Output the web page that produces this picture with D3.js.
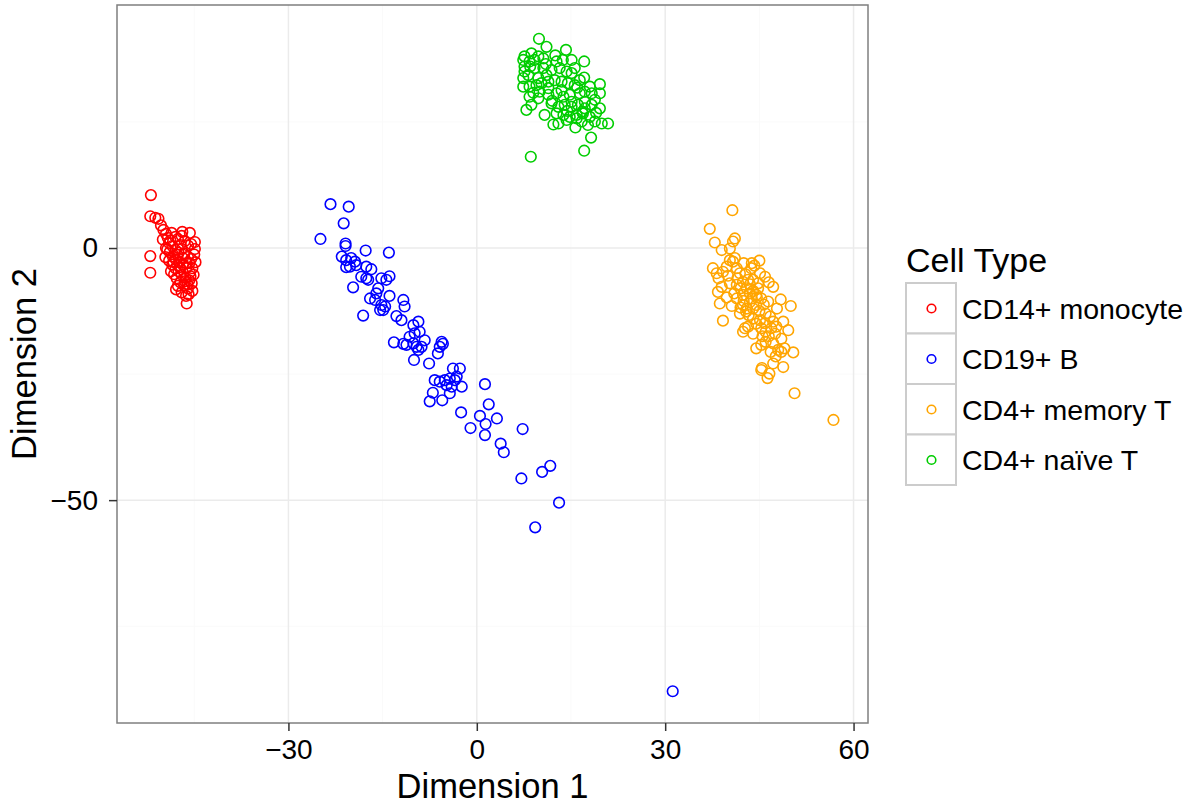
<!DOCTYPE html>
<html>
<head>
<meta charset="utf-8">
<script src="https://cdn.jsdelivr.net/npm/d3@7"></script>
<style>
  body { margin: 0; background: #fff; }
  text { font-family: "Liberation Sans", Arial, Helvetica, sans-serif; fill: #000; }
</style>
</head>
<body>
<svg id="chart" width="1194" height="808"></svg>
<script>
// cell types, in legend order
const cellTypes = ["CD14+ monocyte", "CD19+ B", "CD4+ memory T", "CD4+ naïve T"];
const typeColors = ["#ff0000", "#0000ff", "#ffa500", "#00cd00"];

const xTicks = [-30, 0, 30, 60];
const xMinor = [-45, -15, 15, 45];
const yTicks = [-50, 0];
const yMinor = [-75, -25, 25];

// points: [dimension 1, dimension 2]
const monocyte = [
  [-51.9,10.5],[-52.0,6.3],[-51.2,6.0],[-50.7,5.8],[-52.0,-1.6],[-52.0,-4.9],[-45.7,3.0],[-44.9,-0.2],
  [-46.2,-11.0],[-45.3,-8.5],[-45.4,-7.0],[-50.3,4.5],[-49.9,3.6],[-49.5,2.8],[-49.2,2.0],[-48.6,3.0],
  [-48.0,2.2],[-47.6,1.8],[-47.0,2.4],[-46.5,1.4],[-46.0,0.5],[-49.0,1.0],[-48.5,0.4],[-48.0,-0.4],
  [-47.5,-0.9],[-47.0,-0.2],[-46.6,-1.1],[-46.0,-1.8],[-45.8,-3.0],[-48.9,-0.8],[-48.4,-1.7],[-47.9,-2.3],
  [-47.4,-2.8],[-46.8,-3.3],[-46.3,-4.0],[-45.7,-4.8],[-48.5,-3.3],[-48.0,-4.0],[-47.5,-4.6],[-47.0,-5.3],
  [-46.4,-5.9],[-45.8,-6.4],[-47.8,-6.0],[-47.2,-6.8],[-46.6,-7.4],[-46.0,-8.0],[-47.0,-8.8],[-46.3,-9.5],
  [-48.2,-5.2],[-49.0,-2.5],[-49.3,-0.3],[-48.8,1.5],[-47.2,0.6],[-46.8,-2.0],[-45.5,-2.2],[-45.6,-5.6],
  [-47.7,-1.3],[-46.2,-3.0],[-48.7,-4.6],[-47.3,-3.8],[-46.5,-6.6],[-49.5,0.0],[-48.3,-2.8],[-47.6,-7.5],
  [-45.9,-9.2],[-46.1,-7.2],[-45.3,-4.0],[-44.8,-2.8],[-45.5,0.8],[-46.9,3.2],[-50.0,1.7],[-49.6,-1.8],
  [-47.9,-8.2],[-45.1,-5.3],[-45.0,-1.3],[-44.9,1.2]
];

const bCells = [
  [-23.3,8.7],[-20.4,8.2],[-21.2,4.9],[-24.9,1.8],[-20.9,0.9],[-20.9,0.4],[-17.7,-0.5],[-14.0,-0.9],
  [-21.5,-1.7],[-20.8,-2.4],[-20.0,-2.0],[-19.4,-2.7],[-20.2,-3.7],[-20.8,-3.8],[-19.2,-3.4],[-17.6,-3.7],
  [-16.8,-4.2],[-18.4,-5.7],[-17.6,-6.0],[-17.3,-6.3],[-15.2,-6.0],[-14.4,-6.3],[-13.9,-5.6],[-19.7,-7.8],
  [-15.7,-8.0],[-16.0,-9.0],[-17.0,-10.0],[-16.2,-10.3],[-15.2,-11.3],[-15.4,-12.3],[-14.6,-11.6],[-13.9,-9.5],
  [-18.1,-13.4],[-11.7,-10.3],[-11.5,-11.6],[-12.8,-13.5],[-12.0,-14.3],[-10.1,-15.3],[-9.3,-14.6],[-9.9,-16.9],
  [-9.1,-16.6],[-8.3,-18.3],[-10.7,-17.6],[-10.1,-18.9],[-9.6,-19.6],[-8.8,-19.6],[-13.2,-18.7],[-11.7,-19.0],
  [-11.2,-19.2],[-5.6,-18.6],[-5.4,-19.0],[-6.2,-20.9],[-5.9,-19.6],[-14.9,-12.3],[-9.3,-20.2],[-10.0,-22.2],
  [-7.6,-22.9],[-3.8,-23.9],[-2.7,-23.9],[-6.7,-26.2],[-5.9,-26.5],[-5.1,-26.2],[-4.3,-25.9],[-3.5,-26.2],
  [-4.8,-27.2],[-4.0,-27.5],[-2.4,-27.5],[-3.2,-25.5],[-7.0,-28.7],[-7.5,-30.4],[-5.5,-30.2],[-4.3,-28.8],
  [-2.5,-32.6],[1.3,-27.0],[1.9,-31.0],[0.5,-33.3],[1.4,-34.9],[3.2,-33.8],[-1.0,-35.7],[1.3,-37.1],
  [3.8,-38.8],[4.3,-40.5],[7.3,-35.9],[7.1,-45.7],[10.4,-44.4],[11.7,-43.2],[13.1,-50.5],[9.3,-55.4],
  [31.2,-87.9]
];

const memoryT = [
  [40.7,7.5],[37.1,3.8],[37.9,1.1],[39.0,-0.4],[40.3,-0.1],[40.8,1.3],[41.1,1.9],[41.1,-2.0],
  [40.8,-2.7],[40.3,-2.4],[37.6,-4.0],[38.2,-5.0],[39.2,-4.7],[39.8,-3.7],[41.4,-4.0],[41.9,-5.0],
  [43.7,-4.0],[45.1,-5.0],[45.9,-5.7],[47.2,-7.7],[38.4,-8.7],[39.0,-7.7],[40.3,-7.0],[41.4,-7.3],
  [42.4,-6.7],[43.2,-6.3],[44.0,-6.3],[44.8,-7.0],[38.7,-11.0],[41.4,-10.0],[42.4,-9.3],[43.5,-9.0],
  [44.5,-9.3],[45.3,-10.0],[42.4,-11.3],[43.5,-10.7],[44.5,-11.3],[41.9,-13.0],[42.9,-12.6],[44.0,-12.0],
  [50.0,-11.5],[39.2,-14.4],[42.7,-15.9],[42.4,-16.6],[43.2,-15.6],[45.1,-14.3],[45.9,-14.9],[46.7,-13.6],
  [47.2,-14.6],[45.3,-15.9],[46.0,-16.6],[46.9,-15.9],[47.7,-15.6],[48.8,-14.6],[49.6,-16.3],[44.5,-19.9],
  [45.3,-19.2],[46.0,-18.6],[47.2,-18.9],[48.0,-20.2],[48.5,-20.6],[49.0,-19.9],[50.4,-20.7],[47.2,-22.9],
  [48.8,-23.6],[45.3,-24.2],[46.6,-24.9],[46.3,-25.8],[50.6,-28.8],[56.8,-34.1],[45.4,-23.8],[42.0,-8.0],
  [43.0,-8.0],[44.0,-8.5],[42.5,-10.5],[43.8,-10.0],[41.0,-9.0],[44.8,-8.0],[43.0,-12.0],[45.0,-12.5],
  [46.0,-13.0],[45.5,-17.5],[46.5,-17.5],[47.5,-17.0],[48.5,-18.0],[44.0,-14.0],[40.0,-5.5],[38.5,-6.0],
  [42.5,-3.0],[44.2,-3.5],[41.5,-6.0],[42.8,-5.2],[43.5,-7.2],[44.6,-9.8],[42.0,-11.8],[43.3,-13.3],
  [44.5,-15.0],[45.7,-11.2],[46.4,-10.6],[47.8,-12.0],[46.8,-20.6],[47.6,-21.5],[44.0,-17.0],[43.8,-3.0],
  [45.0,-2.5],[46.5,-6.8],[39.8,-9.8],[40.6,-11.5],[48.4,-10.2]
];

const naiveT = [
  [9.9,41.5],[11.1,39.9],[14.2,39.3],[8.7,38.6],[7.6,38.0],[9.8,38.0],[10.6,37.6],[7.4,37.3],
  [8.4,37.0],[9.2,37.3],[12.7,37.0],[13.7,37.3],[15.1,37.3],[17.1,37.0],[7.6,35.0],[7.4,33.7],
  [8.2,34.3],[9.2,35.7],[10.6,35.7],[11.1,34.3],[11.9,35.3],[13.2,35.7],[14.3,35.0],[15.1,34.7],
  [15.6,35.7],[17.1,33.8],[7.4,32.0],[8.4,32.0],[9.5,32.3],[10.3,32.7],[11.4,33.0],[12.4,33.3],
  [13.5,33.0],[14.5,32.7],[15.6,32.3],[16.4,33.3],[19.6,32.5],[8.4,30.0],[9.8,29.7],[11.4,30.4],
  [12.7,30.7],[13.8,30.0],[14.8,30.4],[16.4,30.7],[18.3,30.7],[19.6,30.7],[18.8,29.4],[7.9,27.4],
  [8.7,28.4],[11.9,28.7],[13.0,28.0],[14.0,28.4],[15.1,28.0],[16.1,28.4],[17.2,27.7],[18.3,28.4],
  [19.6,27.7],[12.7,26.7],[13.8,26.4],[14.8,26.0],[15.9,26.4],[16.9,26.7],[18.0,26.0],[12.2,24.5],
  [13.0,24.7],[15.7,23.9],[18.8,25.1],[19.9,24.7],[20.9,24.7],[18.2,21.9],[17.1,19.3],[8.6,18.1],
  [15.9,25.7],[16.7,25.1],[17.7,24.4],[14.3,25.4],[10.8,26.4],[8.5,36.0],[9.8,33.7],[17.2,31.0],
  [11.4,31.7],[13.5,31.3],[15.1,29.0],[17.2,29.0],[7.6,36.0],[10.0,31.0],[12.0,29.2],[16.0,31.8],
  [14.4,27.2],[11.0,36.5],[12.5,38.2],[9.0,30.8],[16.8,27.0],[19.0,26.8],[18.0,32.0]
];

const groups = [monocyte, bCells, memoryT, naiveT];

const svg = d3.select("svg#chart");
const panel = { left: 117, right: 868, top: 5, bottom: 723 };

const xScale = d3.scaleLinear().domain([-57.3, 62.3]).range([panel.left, panel.right]);
const yScale = d3.scaleLinear().domain([-94.2, 48.2]).range([panel.bottom, panel.top]);
const color = d3.scaleOrdinal().domain(cellTypes).range(typeColors);

// gridlines
let grid = svg.append("g").attr("id", "grid");
grid.selectAll("line.xminor").data(xMinor).join("line")
    .attr("x1", d => xScale(d)).attr("x2", d => xScale(d))
    .attr("y1", panel.top).attr("y2", panel.bottom)
    .style("stroke", "#fafafa").style("stroke-width", 1);
grid.selectAll("line.yminor").data(yMinor).join("line")
    .attr("y1", d => yScale(d)).attr("y2", d => yScale(d))
    .attr("x1", panel.left).attr("x2", panel.right)
    .style("stroke", "#fafafa").style("stroke-width", 1);
grid.selectAll("line.xmajor").data(xTicks).join("line")
    .attr("x1", d => xScale(d)).attr("x2", d => xScale(d))
    .attr("y1", panel.top).attr("y2", panel.bottom)
    .style("stroke", "#ebebeb").style("stroke-width", 1.5);
grid.selectAll("line.ymajor").data(yTicks).join("line")
    .attr("y1", d => yScale(d)).attr("y2", d => yScale(d))
    .attr("x1", panel.left).attr("x2", panel.right)
    .style("stroke", "#ebebeb").style("stroke-width", 1.5);

// points
let points = svg.append("g").attr("id", "points");
groups.forEach((pts, i) => {
    points.append("g").selectAll("circle")
        .data(pts)
        .join("circle")
        .attr("cx", d => xScale(d[0]))
        .attr("cy", d => yScale(d[1]))
        .attr("r", 5.3)
        .style("fill", "none")
        .style("stroke", color(cellTypes[i]))
        .style("stroke-width", 1.6);
});

// panel border
svg.append("rect")
    .attr("x", panel.left).attr("y", panel.top)
    .attr("width", panel.right - panel.left).attr("height", panel.bottom - panel.top)
    .style("fill", "none").style("stroke", "#7f7f7f").style("stroke-width", 1.5);

// axes
const minusFmt = d => d < 0 ? "\u2212" + Math.abs(d) : d;
let bottomAxis = d3.axisBottom(xScale).tickValues(xTicks).tickSize(8).tickPadding(8)
    .tickFormat(minusFmt);
let xAxisG = svg.append("g").attr("class", "x axis")
    .attr("transform", `translate(0,${panel.bottom})`).call(bottomAxis);
let leftAxis = d3.axisLeft(yScale).tickValues(yTicks).tickSize(8).tickPadding(11)
    .tickFormat(minusFmt);
let yAxisG = svg.append("g").attr("class", "y axis")
    .attr("transform", `translate(${panel.left},0)`).call(leftAxis);
[xAxisG, yAxisG].forEach(g => {
    g.select(".domain").remove();
    g.selectAll(".tick line").style("stroke", "#333").style("stroke-width", 1.5);
    g.selectAll(".tick text").style("font-size", "28px").style("font-family", "Liberation Sans, Arial, sans-serif").attr("fill", "#000");
});

// axis titles
svg.append("text")
    .attr("x", (panel.left + panel.right) / 2).attr("y", 798)
    .attr("text-anchor", "middle").style("font-size", "34.5px")
    .text("Dimension 1");
svg.append("text")
    .attr("transform", `translate(36,${(panel.top + panel.bottom) / 2}) rotate(-90)`)
    .attr("text-anchor", "middle").style("font-size", "34.5px")
    .text("Dimension 2");

// legend
let legend = svg.append("g").attr("id", "legend").attr("transform", "translate(906,283)");
legend.append("text").attr("x", 0).attr("y", -11).style("font-size", "34px").text("Cell Type");
let keys = legend.selectAll("g.key").data(cellTypes).join("g")
    .attr("class", "key")
    .attr("transform", (d, i) => `translate(0,${i * 50.5})`);
keys.append("rect")
    .attr("width", 50).attr("height", 50.5)
    .style("fill", "#fff").style("stroke", "#cccccc").style("stroke-width", 2);
keys.append("circle")
    .attr("cx", 25.5).attr("cy", 25.5).attr("r", 4.3)
    .style("fill", "none").style("stroke", d => color(d)).style("stroke-width", 1.6);
keys.append("text")
    .attr("x", 56).attr("y", 35.5)
    .style("font-size", "28.5px")
    .text(d => d);
</script>
</body>
</html>
